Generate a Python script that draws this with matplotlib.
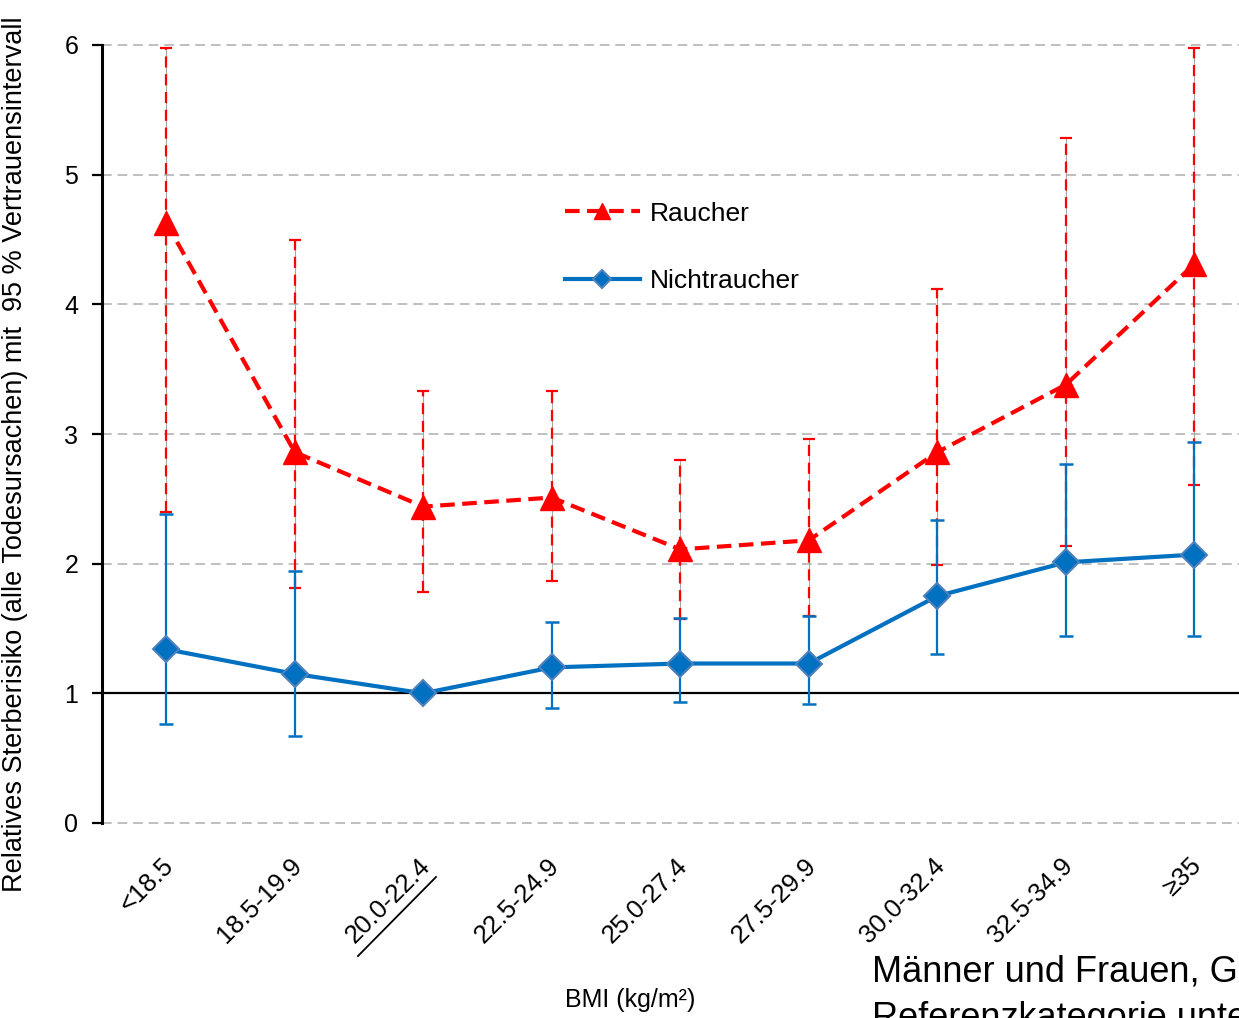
import numpy as np
import matplotlib
matplotlib.use("Agg")
from matplotlib import pyplot as plt
from matplotlib.transforms import ScaledTranslation

plt.rcParams['font.family'] = ['Liberation Sans', 'DejaVu Sans']

categories = ['<18.5', '18.5-19.9', '20.0-22.4', '22.5-24.9', '25.0-27.4',
              '27.5-29.9', '30.0-32.4', '32.5-34.9', '\u226535']

# Raucher: relative risk with 95 % CI
smoker_rr = [4.63, 2.86, 2.44, 2.51, 2.11, 2.18, 2.86, 3.38, 4.31]
smoker_lo = [2.40, 1.81, 1.78, 1.87, 1.57, 1.60, 1.99, 2.14, 2.61]
smoker_hi = [5.98, 4.50, 3.33, 3.33, 2.80, 2.96, 4.12, 5.28, 5.98]

# Nichtraucher (reference category 20.0-22.4 has no interval)
nonsmoker_rr = [1.34, 1.15, 1.00, 1.20, 1.23, 1.23, 1.75, 2.01, 2.07]
nonsmoker_lo = [0.76, 0.67, np.nan, 0.89, 0.93, 0.92, 1.30, 1.44, 1.44]
nonsmoker_hi = [2.38, 1.94, np.nan, 1.55, 1.58, 1.60, 2.34, 2.77, 2.94]

yticks = [0, 1, 2, 3, 4, 5, 6]

red = '#FF0000'
blue = '#0070C0'
grid_grey = '#BFBFBF'

x = np.arange(len(categories))
s_rr = np.array(smoker_rr)
n_rr = np.array(nonsmoker_rr)

fig = plt.figure(figsize=(12.39, 10.18), dpi=100)
W, H = 1239., 1018.
ax = fig.add_axes([102 / W, 1 - 823 / H, 1156.5 / W, 778 / H])
ax.set_xlim(-0.5, 8.5)
ax.set_ylim(0, 6)

# grid lines (dashed grey), solid black line at 1
for yv in yticks:
    if yv == 1:
        ax.axhline(yv, color='black', lw=1.6, zorder=1)
    else:
        ax.axhline(yv, color=grid_grey, lw=1.4, ls=(0, (5, 3)), zorder=0,
                   clip_on=False)

# Raucher error bars: thin grey line beneath a dashed red one
ax.vlines(x, smoker_lo, smoker_hi, color='#A6A6A6', lw=0.8, zorder=2)
eb = ax.errorbar(x, s_rr,
                 yerr=[s_rr - np.array(smoker_lo), np.array(smoker_hi) - s_rr],
                 fmt='none', ecolor=red, elinewidth=1.6, capsize=4,
                 capthick=1.6, zorder=3)
eb[2][0].set_linestyle((0, (5, 3)))

# Nichtraucher error bars
ax.errorbar(x, n_rr,
            yerr=[n_rr - np.array(nonsmoker_lo), np.array(nonsmoker_hi) - n_rr],
            fmt='none', ecolor=blue, elinewidth=1.6, capsize=5, capthick=1.8,
            zorder=4)

ax.plot(x, n_rr, color=blue, lw=3, marker='D', ms=13, mfc=blue,
        mec='#4F81BD', mew=1.5, zorder=5, label='Nichtraucher')
ax.plot(x, s_rr, color=red, lw=3, ls=(0, (3.5, 1.8)), marker='^', ms=17,
        mfc=red, mec=red, zorder=6, label='Raucher')

# axes styling
for side in ['top', 'right', 'bottom']:
    ax.spines[side].set_visible(False)
ax.spines['left'].set_linewidth(2.2)
ax.set_yticks(yticks)
ax.tick_params(axis='y', length=7, width=1.6, labelsize=18, pad=10)
ax.set_xticks(x)
ax.set_xticklabels(categories, rotation=45, ha='right', va='top',
                   rotation_mode='anchor', fontsize=18.5)
ax.tick_params(axis='x', length=0, pad=22)
shift = ScaledTranslation(-0.05, 0, fig.dpi_scale_trans)
for lab in ax.get_xticklabels():
    lab.set_transform(lab.get_transform() + shift)

ax.set_ylabel('Relatives Sterberisiko (alle Todesursachen) mit  95 % '
              'Vertrauensintervall', fontsize=19.5)
ax.yaxis.set_label_coords(-0.064, 0.474)

fig.text(630 / W, 1 - 1000 / H, 'BMI (kg/m\u00b2)', ha='center', va='center',
         fontsize=18)

# underline the reference category
fig.add_artist(plt.Line2D([358 / W, 436 / W], [1 - 956 / H, 1 - 877 / H],
                          transform=fig.transFigure, color='black', lw=1.3))

handles, labels = ax.get_legend_handles_labels()
ax.legend(handles[::-1], labels[::-1], loc='upper left',
          bbox_to_anchor=(554 / W, 1 - 191 / H),
          bbox_transform=fig.transFigure, frameon=False, fontsize=19,
          borderaxespad=0, handlelength=2.85, labelspacing=1.65,
          handletextpad=0.38, markerscale=0.7)

fig.text(872 / W, 1 - 981 / H, 'M\u00e4nner und Frauen, Gesamt',
         ha='left', va='baseline', fontsize=26)
fig.text(872 / W, 1 - 1028 / H, 'Referenzkategorie unterstrichen',
         ha='left', va='baseline', fontsize=26)

fig.savefig('out.png', dpi=100)
